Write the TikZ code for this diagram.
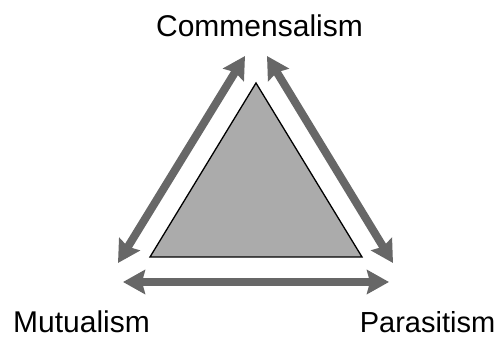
\documentclass[tikz,border=0pt]{standalone}
\usepackage{fontspec}
\setmainfont{Liberation Sans}
\usetikzlibrary{arrows.meta}
\definecolor{arrowgray}{HTML}{676767}
\definecolor{trifill}{HTML}{ABABAB}
\tikzset{
  bigarrow/.style={draw=arrowgray, line width=8pt, {Stealth[length=22pt,width=24pt,inset=3pt]}-{Stealth[length=22pt,width=24pt,inset=3pt]}},
  lbl/.style={font=\fontsize{30}{36}\selectfont, inner sep=0pt, anchor=base}
}
\begin{document}
\begin{tikzpicture}[x=1pt,y=-1pt]
\useasboundingbox (0,0) rectangle (496,339);
% triangle
\coordinate (A) at (256,83);
\coordinate (B) at (150,257);
\coordinate (C) at (362,257);
\draw[fill=trifill, line width=1.3pt, line join=miter] (A) -- (B) -- (C) -- cycle;
% arrow ends
\coordinate (LT) at (245,56);
\coordinate (LB) at (118,263);
\coordinate (RT) at (267,56);
\coordinate (RB) at (393,263);
\coordinate (BL) at (123,282);
\coordinate (BR) at (389,282);
\draw[bigarrow] (LB) -- (LT);
\draw[bigarrow] (RB) -- (RT);
\draw[bigarrow] (BL) -- (BR);
% labels
\node[lbl] (com) at (259.5,37) {Commensalism};
\node[lbl] (mut) at (81.5,333) {Mutualism};
\node[lbl, font=\fontsize{29}{35}\selectfont] (par) at (427.5,333) {Parasitism};
\end{tikzpicture}
\end{document}
